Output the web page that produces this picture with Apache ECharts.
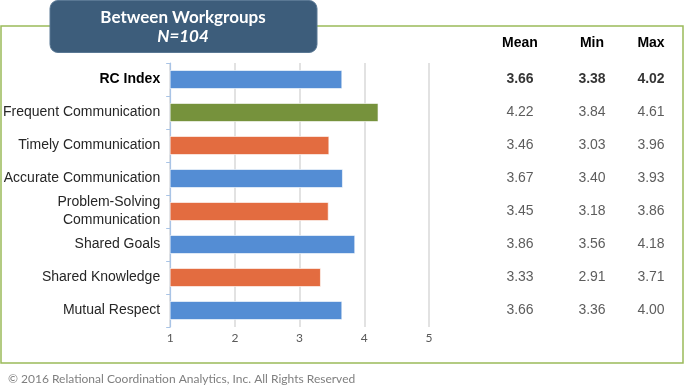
<!DOCTYPE html>
<html>
<head>
<meta charset="utf-8">
<script src="https://cdn.jsdelivr.net/npm/echarts@6/dist/echarts.min.js"></script>
<style>
  html, body { margin: 0; padding: 0; background: #fff; }
  #chart { width: 685px; height: 388px; }
</style>
</head>
<body>
<div id="chart"></div>
<script>
// data
const categories = ['RC Index', 'Frequent Communication', 'Timely Communication', 'Accurate Communication',
  'Problem-Solving\nCommunication', 'Shared Goals', 'Shared Knowledge', 'Mutual Respect'];
const meanValues = [3.66, 4.22, 3.46, 3.67, 3.45, 3.86, 3.33, 3.66];
const minValues = [3.38, 3.84, 3.03, 3.40, 3.18, 3.56, 2.91, 3.36];
const maxValues = [4.02, 4.61, 3.96, 3.93, 3.86, 4.18, 3.71, 4.00];
const tableColumns = ['Mean', 'Min', 'Max'];
const barColors = ['#548dd4', '#76923c', '#e36c40', '#548dd4', '#e36c40', '#548dd4', '#e36c40', '#548dd4'];

const chart = echarts.init(document.getElementById('chart'));
const font = 'Liberation Sans, Arial, sans-serif';
const plotTop = 63, plotHeight = 264;
// centre x of each table column
const columnCenters = [520, 592, 651];

const grids = [{ left: 170, top: plotTop, width: 259, height: plotHeight }];
const xAxes = [{
  type: 'value',
  min: 1,
  max: 5,
  interval: 1,
  axisLine: { show: false },
  axisTick: { show: false },
  axisLabel: { color: '#595959', fontSize: 12, fontFamily: 'Lato, sans-serif', margin: 5 },
  splitLine: { show: true, lineStyle: { color: '#d9d9d9', width: 1.5 } }
}];
const yAxes = [{
  type: 'category',
  inverse: true,
  data: categories,
  axisLine: { show: true, lineStyle: { color: '#a9c4e6', width: 1.2 } },
  axisTick: { show: true, length: 4, lineStyle: { color: '#a9c4e6' } },
  axisLabel: {
    color: '#262626',
    fontSize: 14,
    fontFamily: font,
    margin: 10,
    lineHeight: 18,
    formatter: v => v === 'RC Index' ? '{b|' + v + '}' : v,
    rich: { b: { fontWeight: 'bold', fontSize: 14, color: '#000', fontFamily: font } }
  }
}];
const series = [{
  type: 'bar',
  barWidth: 19,
  data: meanValues.map((v, i) => ({
    value: v,
    itemStyle: { color: barColors[i], borderColor: 'rgba(255,255,255,0.6)', borderWidth: 1 }
  }))
}];

// the stats table: one narrow grid per column, cells are label-only points
[meanValues, minValues, maxValues].forEach((arr, c) => {
  const gi = c + 1;
  grids.push({ left: columnCenters[c] - 30, top: plotTop, width: 60, height: plotHeight });
  xAxes.push({
    gridIndex: gi,
    type: 'category',
    position: 'top',
    data: [tableColumns[c]],
    axisLine: { show: false },
    axisTick: { show: false },
    axisLabel: { color: '#000', fontWeight: 'bold', fontSize: 14, fontFamily: font, margin: 13 },
    splitLine: { show: false }
  });
  yAxes.push({ gridIndex: gi, type: 'category', inverse: true, data: categories, show: false });
  series.push({
    type: 'scatter',
    xAxisIndex: gi,
    yAxisIndex: gi,
    symbolSize: 0,
    data: arr.map((v, r) => ({
      value: [tableColumns[c], categories[r], v],
      label: { fontWeight: r === 0 ? 'bold' : 'normal', color: r === 0 ? '#000' : '#333' }
    })),
    label: {
      show: true,
      position: 'inside',
      fontSize: 14,
      fontFamily: font,
      formatter: p => p.value[2].toFixed(2)
    }
  });
});

const option = {
  animation: false,
  grid: grids,
  xAxis: xAxes,
  yAxis: yAxes,
  series: series,
  graphic: [{
    type: 'rect',
    shape: { x: 1, y: 26, width: 682, height: 337 },
    style: { fill: 'none', stroke: '#9bbb59', lineWidth: 1.5 },
    z: 0
  }, {
    type: 'rect',
    shape: { x: 50, y: 0.5, width: 267, height: 52, r: 8 },
    style: { fill: '#3d5d7b', stroke: '#5a7894', lineWidth: 1 },
    z: 10
  }, {
    type: 'text',
    x: 183, y: 18,
    style: { text: 'Between Workgroups', fill: '#fff', font: 'bold 17px Lato, sans-serif', align: 'center', verticalAlign: 'middle' },
    z: 11
  }, {
    type: 'text',
    x: 183, y: 37,
    style: { text: 'N=104', fill: '#fff', font: 'italic bold 17px Lato, sans-serif', align: 'center', verticalAlign: 'middle' },
    z: 11
  }, {
    type: 'text',
    x: 8, y: 379,
    style: { text: '\u00a9 2016 Relational Coordination Analytics, Inc. All Rights Reserved', fill: '#7f7f7f', font: '12px Lato, sans-serif', verticalAlign: 'middle' },
    z: 11
  }]
};

chart.setOption(option);
</script>
</body>
</html>
